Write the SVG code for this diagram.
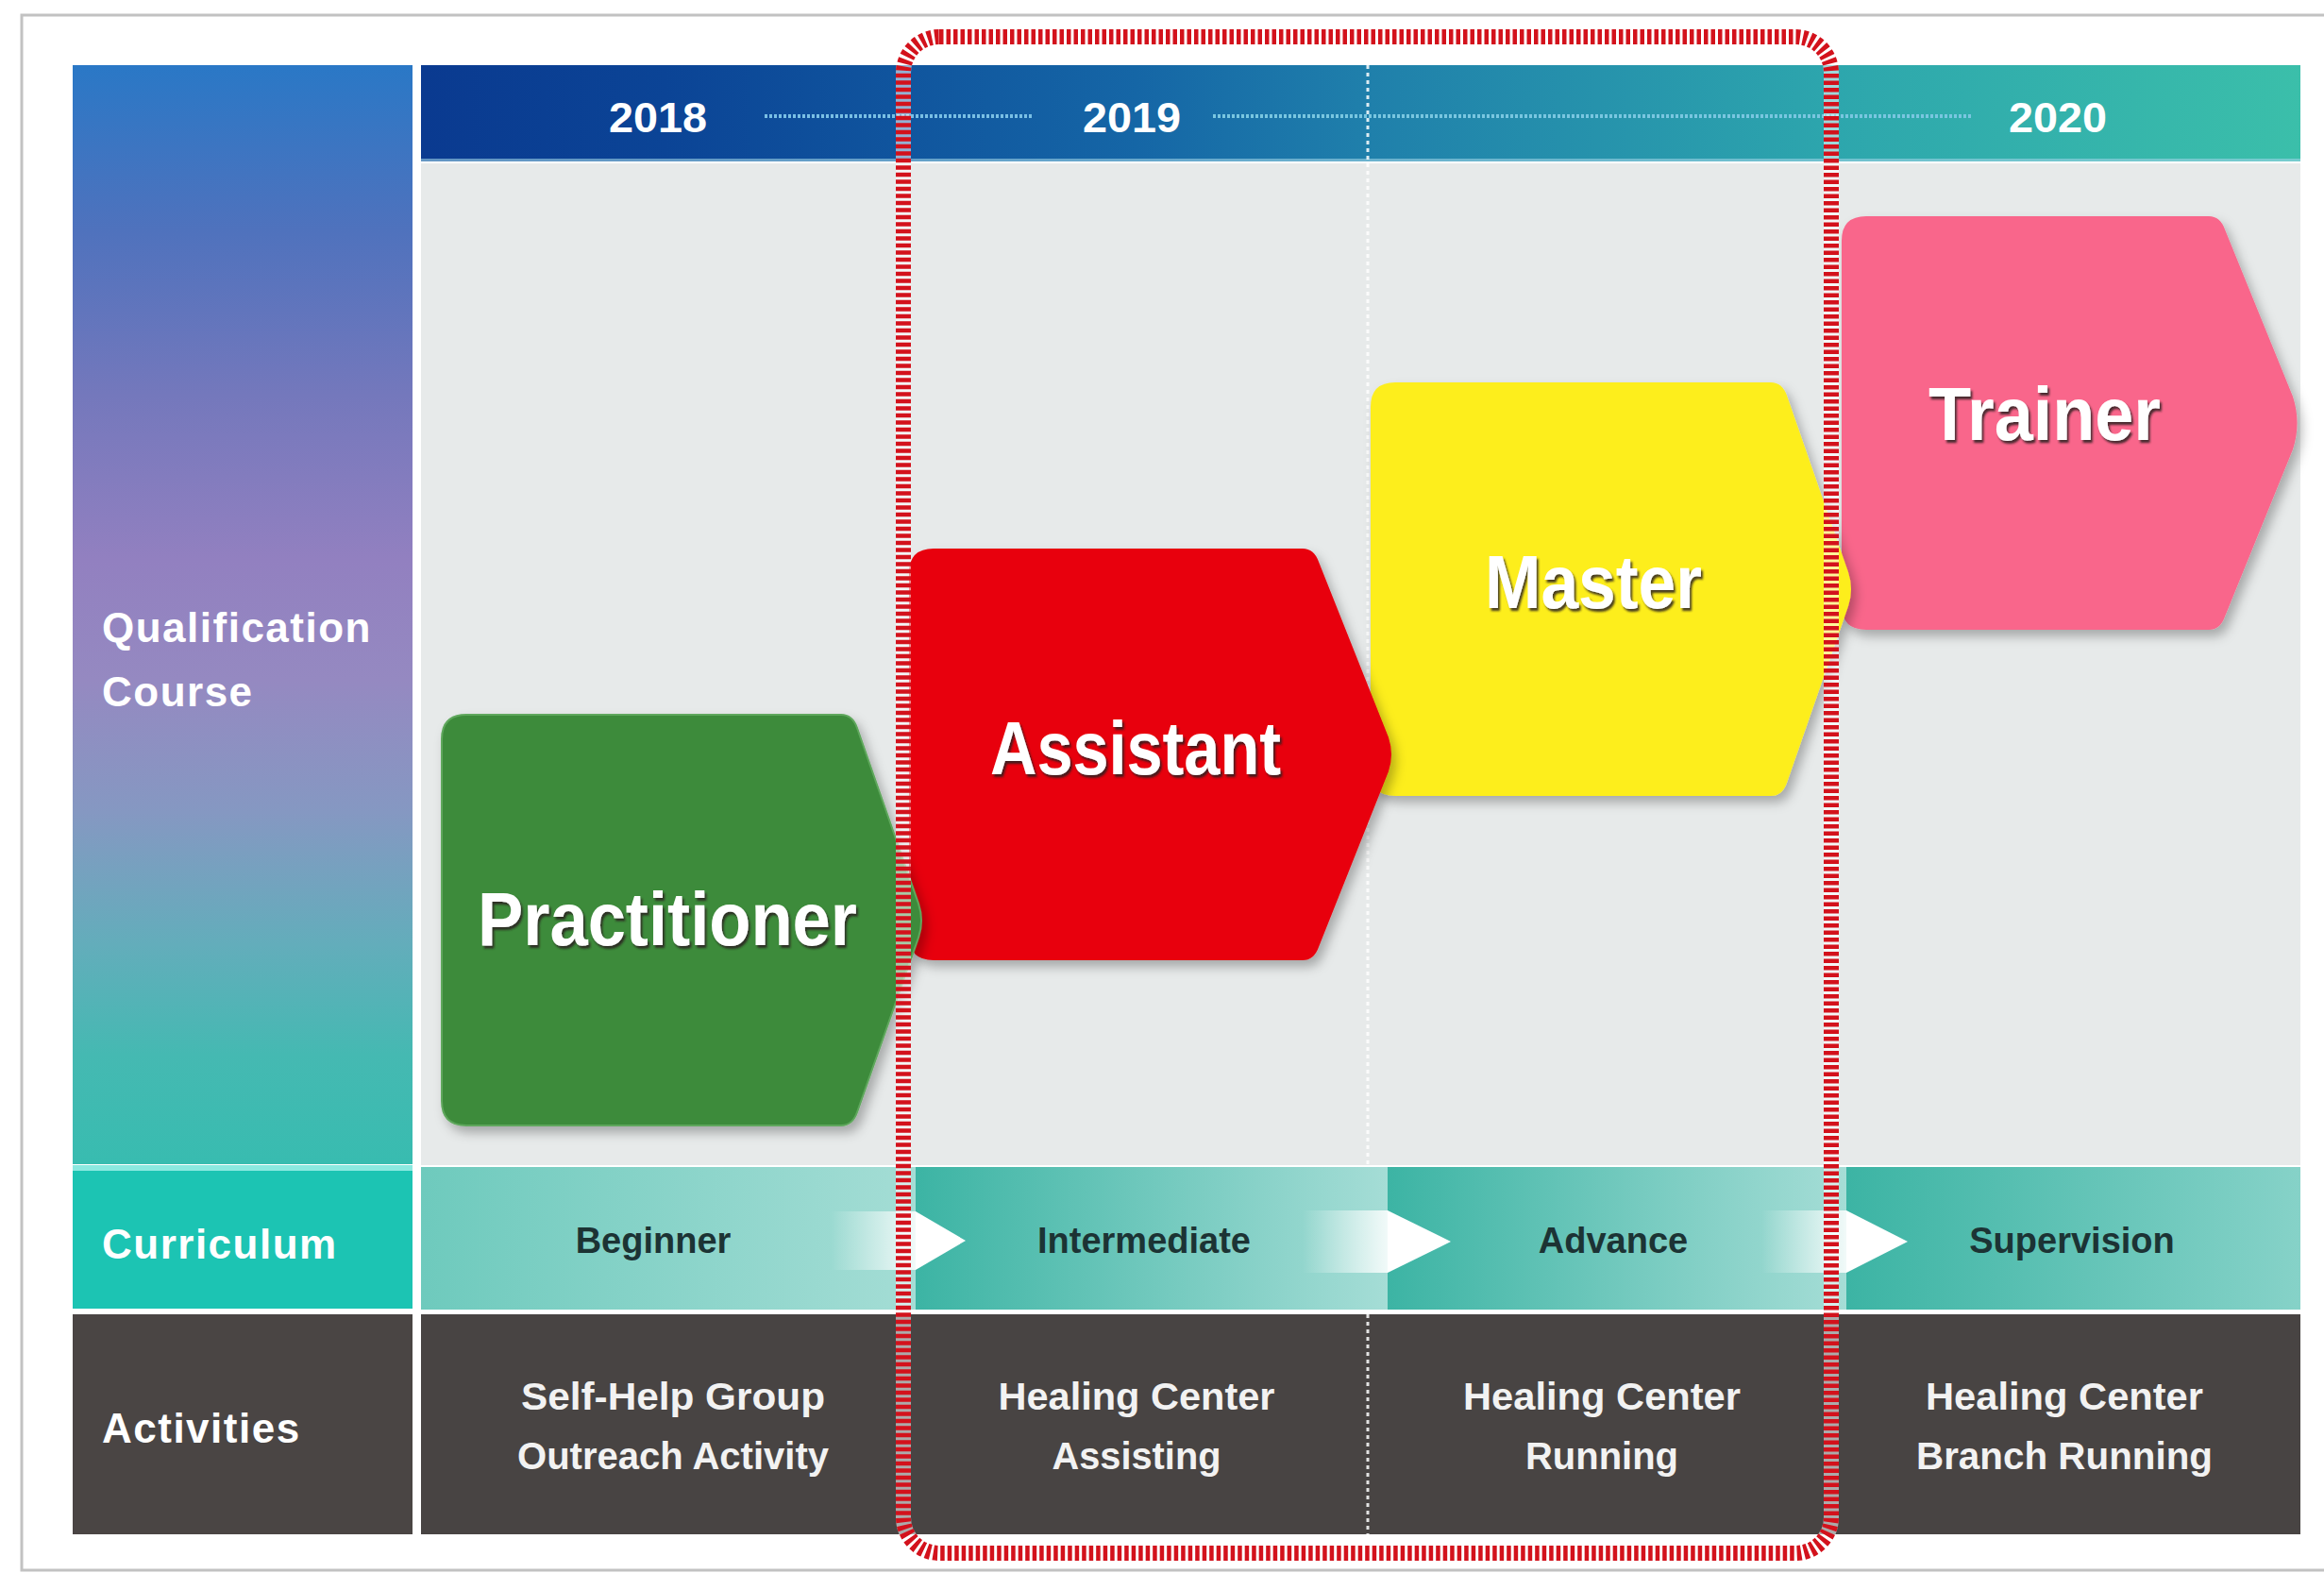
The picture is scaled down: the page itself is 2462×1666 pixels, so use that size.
<svg xmlns="http://www.w3.org/2000/svg" width="2462" height="1666" viewBox="0 0 2462 1666">
<defs>
<linearGradient id="gLeft" x1="0" y1="69" x2="0" y2="1233" gradientUnits="userSpaceOnUse">
<stop offset="0" stop-color="#2a78c6"/>
<stop offset="0.15" stop-color="#4f72bd"/>
<stop offset="0.3" stop-color="#7478bc"/>
<stop offset="0.45" stop-color="#9280c0"/>
<stop offset="0.56" stop-color="#9589c1"/>
<stop offset="0.68" stop-color="#8598c2"/>
<stop offset="0.8" stop-color="#63adbb"/>
<stop offset="0.9" stop-color="#45b9b2"/>
<stop offset="1" stop-color="#38bcb0"/>
</linearGradient>
<linearGradient id="gTime" x1="446" y1="0" x2="2440" y2="0" gradientUnits="userSpaceOnUse">
<stop offset="0" stop-color="#0a3a90"/>
<stop offset="0.13" stop-color="#0b4496"/>
<stop offset="0.38" stop-color="#1566a6"/>
<stop offset="0.5" stop-color="#1f7fab"/>
<stop offset="0.75" stop-color="#2da6ad"/>
<stop offset="1" stop-color="#3bbfaa"/>
</linearGradient>
<linearGradient id="gBeg" x1="0" y1="0" x2="1" y2="0">
<stop offset="0" stop-color="#6ecabd"/>
<stop offset="1" stop-color="#a4ddd5"/>
</linearGradient>
<linearGradient id="gSeg" x1="0" y1="0" x2="1" y2="0">
<stop offset="0" stop-color="#3cb4a4"/>
<stop offset="1" stop-color="#a5ddd6"/>
</linearGradient>
<linearGradient id="gSegLast" x1="0" y1="0" x2="1" y2="0">
<stop offset="0" stop-color="#3cb4a4"/>
<stop offset="1" stop-color="#86d2c8"/>
</linearGradient>
<linearGradient id="gGlow" x1="0" y1="0" x2="1" y2="0">
<stop offset="0" stop-color="#ffffff" stop-opacity="0"/>
<stop offset="1" stop-color="#ffffff" stop-opacity="0.85"/>
</linearGradient>
<filter id="shadow" x="-10%" y="-10%" width="130%" height="130%">
<feDropShadow dx="5" dy="7" stdDeviation="6" flood-color="#000" flood-opacity="0.28"/>
</filter>
<filter id="tshadow" x="-10%" y="-20%" width="130%" height="150%">
<feDropShadow dx="2" dy="3" stdDeviation="1.3" flood-color="#2a1f1f" flood-opacity="0.85"/>
</filter>
<filter id="lshadow" x="-10%" y="-20%" width="130%" height="150%">
<feDropShadow dx="1" dy="2" stdDeviation="1" flood-color="#ffffff" flood-opacity="0.5"/>
</filter>
</defs>
<style>
.t{font-family:'Liberation Sans',Arial,sans-serif;font-weight:bold}
.year{fill:#ffffff;font-size:44px;text-anchor:middle}
.side{fill:#ffffff;font-size:44px;letter-spacing:1.5px}
.node{fill:#ffffff;font-size:80px;text-anchor:middle}
.cur{fill:#1c3334;font-size:38px;text-anchor:middle}
.act{fill:#f2f2f2;font-size:41px;text-anchor:middle}
.arrow{fill:#ffffff}
</style>
<rect x="0" y="0" width="2462" height="1666" fill="#ffffff"/>
<rect x="23" y="16" width="2460" height="1647" fill="#ffffff" stroke="#c2c2c2" stroke-width="3"/>

<g id="left-column">
<rect x="77" y="69" width="360" height="1164" fill="url(#gLeft)"/>
<rect x="77" y="1234" width="360" height="6" fill="#8be9e0"/>
<rect x="77" y="1240" width="360" height="146" fill="#1cc4b3"/>
<rect x="77" y="1392" width="360" height="233" fill="#4a4544"/>
<text class="t side" x="108" y="680">Qualification</text>
<text class="t side" x="108" y="748">Course</text>
<text class="t side" x="108" y="1333">Curriculum</text>
<text class="t side" x="108" y="1528" fill="#eeeeee">Activities</text>
</g>

<g id="timeline">
<rect x="446" y="69" width="1991" height="102" fill="url(#gTime)"/>
<rect x="446" y="168" width="1991" height="3" fill="#9fd3e6" opacity="0.6"/>
<line x1="810" y1="123" x2="1095" y2="123" stroke="#79bfe4" stroke-width="4" stroke-dasharray="3 2"/>
<line x1="1285" y1="123" x2="2090" y2="123" stroke="#79c6e0" stroke-width="4" stroke-dasharray="3 2"/>
<text class="t year" x="697" y="140" textLength="104" lengthAdjust="spacingAndGlyphs">2018</text>
<text class="t year" x="1199" y="140" textLength="104" lengthAdjust="spacingAndGlyphs">2019</text>
<text class="t year" x="2180" y="140" textLength="104" lengthAdjust="spacingAndGlyphs">2020</text>
</g>

<rect x="446" y="173" width="1991" height="1061" fill="#e7eaea"/>

<g id="curriculum">
<rect x="446" y="1236" width="524" height="151" fill="url(#gBeg)"/>
<rect x="970" y="1236" width="500" height="151" fill="url(#gSeg)"/>
<rect x="1470" y="1236" width="486" height="151" fill="url(#gSeg)"/>
<rect x="1956" y="1236" width="481" height="151" fill="url(#gSegLast)"/>
<rect x="880" y="1283" width="90" height="62" fill="url(#gGlow)"/>
<rect x="1380" y="1282" width="90" height="66" fill="url(#gGlow)"/>
<rect x="1866" y="1282" width="90" height="66" fill="url(#gGlow)"/>
<text class="t cur" x="692" y="1327">Beginner</text>
<text class="t cur" x="1212" y="1327">Intermediate</text>
<text class="t cur" x="1709" y="1327">Advance</text>
<text class="t cur" x="2195" y="1327">Supervision</text>
</g>

<g id="activities">
<rect x="446" y="1392" width="1991" height="233" fill="#484443"/>
<text class="t act" x="713" y="1493" textLength="322" lengthAdjust="spacingAndGlyphs">Self-Help Group</text>
<text class="t act" x="713" y="1556" textLength="330" lengthAdjust="spacingAndGlyphs">Outreach Activity</text>
<text class="t act" x="1204" y="1493" textLength="293" lengthAdjust="spacingAndGlyphs">Healing Center</text>
<text class="t act" x="1204" y="1556" textLength="179" lengthAdjust="spacingAndGlyphs">Assisting</text>
<text class="t act" x="1697" y="1493" textLength="294" lengthAdjust="spacingAndGlyphs">Healing Center</text>
<text class="t act" x="1697" y="1556" textLength="162" lengthAdjust="spacingAndGlyphs">Running</text>
<text class="t act" x="2187" y="1493" textLength="294" lengthAdjust="spacingAndGlyphs">Healing Center</text>
<text class="t act" x="2187" y="1556" textLength="314" lengthAdjust="spacingAndGlyphs">Branch Running</text>
</g>

<g id="divider">
<line x1="1449" y1="69" x2="1449" y2="1234" stroke="#ffffff" stroke-width="3" stroke-dasharray="4 4" opacity="0.85"/>
<line x1="1449" y1="1392" x2="1449" y2="1625" stroke="#ffffff" stroke-width="3" stroke-dasharray="4 4" opacity="0.85"/>
</g>

<g id="trainer">
<path d="M1977,229 H2340 Q2352,229 2357,243 L2429,420 Q2438,448 2429,476 L2357,653 Q2352,667 2340,667 H1977 Q1951,667 1951,641 V255 Q1951,229 1977,229 Z" fill="#f9668b" filter="url(#shadow)"/>
<text class="t node" x="2166" y="466" textLength="246" lengthAdjust="spacingAndGlyphs" filter="url(#tshadow)">Trainer</text>
</g>
<g id="master">
<path d="M1478,405 H1876 Q1888,405 1893,419 L1958,606 Q1964,624 1958,642 L1893,829 Q1888,843 1876,843 H1478 Q1452,843 1452,817 V431 Q1452,405 1478,405 Z" fill="#fdee1f" filter="url(#shadow)"/>
<text class="t node" x="1688" y="644" font-size="78" textLength="230" lengthAdjust="spacingAndGlyphs" filter="url(#tshadow)">Master</text>
</g>
<g id="assistant">
<path d="M989,581 H1380 Q1392,581 1397,595 L1471,781 Q1477,799 1471,817 L1397,1003 Q1392,1017 1380,1017 H989 Q963,1017 963,991 V607 Q963,581 989,581 Z" fill="#e8000e" filter="url(#shadow)"/>
<text class="t node" x="1203" y="820" textLength="308" lengthAdjust="spacingAndGlyphs" filter="url(#tshadow)">Assistant</text>
</g>
<g id="practitioner">
<path d="M494,757 H891 Q903,757 908,771 L973,957 Q979,975 973,993 L908,1178 Q903,1192 891,1192 H494 Q468,1192 468,1166 V783 Q468,757 494,757 Z" fill="#3d8b3b" stroke="#5ea75c" stroke-width="2" filter="url(#shadow)"/>
<text class="t node" x="707" y="1001" textLength="402" lengthAdjust="spacingAndGlyphs" filter="url(#tshadow)">Practitioner</text>
</g>

<g id="connectors">
<polygon class="arrow" points="970,1283 1023,1314 970,1345"/>
<polygon class="arrow" points="1470,1282 1537,1315 1470,1348"/>
<polygon class="arrow" points="1956,1282 2021,1315 1956,1348"/>
</g>

<g id="highlight">
<rect x="957" y="39" width="983" height="1606" rx="38" ry="38" fill="none" stroke="#ffffff" stroke-opacity="0.55" stroke-width="16"/>
<rect x="957" y="39" width="983" height="1606" rx="38" ry="38" fill="none" stroke="#d3121c" stroke-width="16" stroke-dasharray="4.5 3"/>
</g>
</svg>
